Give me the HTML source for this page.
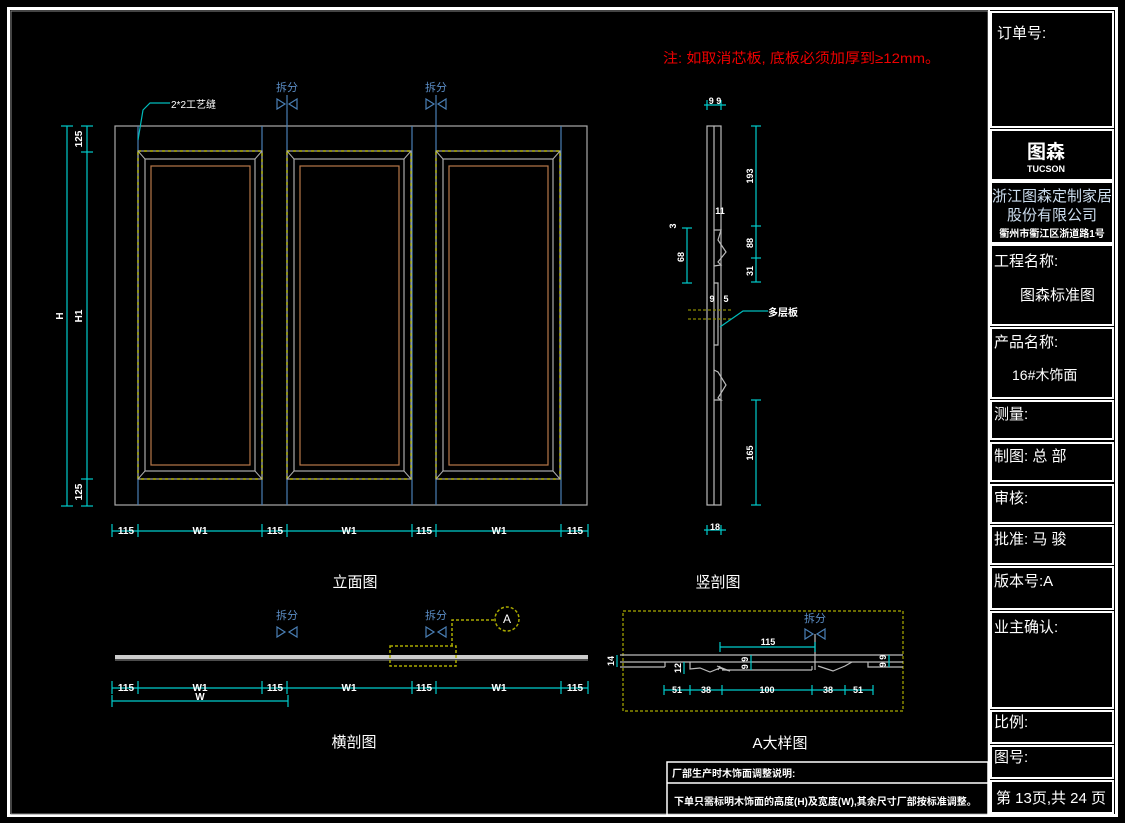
<!DOCTYPE html>
<html><head><meta charset="utf-8"><style>
html,body{margin:0;padding:0;background:#000;}
svg{display:block;}
text{font-family:"Liberation Sans","Noto Sans CJK SC",sans-serif;}
</style></head><body>
<svg width="1125" height="823" viewBox="0 0 1125 823" xmlns="http://www.w3.org/2000/svg">
<rect width="1125" height="823" fill="#000"/>
<rect x="8.5" y="8.5" width="1108" height="807" fill="none" stroke="#fff" stroke-width="3"/>
<rect x="11" y="11" width="977" height="803" fill="none" stroke="#888" stroke-width="1"/>
<line x1="989" y1="10" x2="989" y2="815" stroke="#fff" stroke-width="2"/>
<g fill="none" stroke="#fff" stroke-width="2">
<rect x="991" y="12" width="122" height="115"/>
<rect x="991" y="130" width="122" height="50"/>
<rect x="991" y="182" width="122" height="61"/>
<rect x="991" y="245" width="122" height="80"/>
<rect x="991" y="328" width="122" height="70"/>
<rect x="991" y="401" width="122" height="38"/>
<rect x="991" y="443" width="122" height="38"/>
<rect x="991" y="485" width="122" height="38"/>
<rect x="991" y="526" width="122" height="38"/>
<rect x="991" y="567" width="122" height="42"/>
<rect x="991" y="612" width="122" height="96"/>
<rect x="991" y="711" width="122" height="32"/>
<rect x="991" y="746" width="122" height="32"/>
<rect x="991" y="781" width="122" height="32"/>
</g>
<g fill="#fff" font-size="15">
<text x="997" y="38">订单号:</text>
<text x="1046" y="158" font-size="19" font-weight="bold" text-anchor="middle">图森</text>
<text x="1046" y="172" font-size="9" font-weight="bold" text-anchor="middle">TUCSON</text>
<text x="1052" y="201" text-anchor="middle" fill="#cde">浙江图森定制家居</text>
<text x="1052" y="220" text-anchor="middle" fill="#cde">股份有限公司</text>
<text x="1052" y="237" text-anchor="middle" font-size="10" font-weight="bold">衢州市衢江区浙道路1号</text>
<text x="994" y="266">工程名称:</text>
<text x="1020" y="300">图森标准图</text>
<text x="994" y="347">产品名称:</text>
<text x="1012" y="380" font-size="14">16#木饰面</text>
<text x="994" y="419">测量:</text>
<text x="994" y="461">制图: 总 部</text>
<text x="994" y="503">审核:</text>
<text x="994" y="544">批准: 马 骏</text>
<text x="994" y="586">版本号:A</text>
<text x="994" y="632">业主确认:</text>
<text x="994" y="727">比例:</text>
<text x="994" y="762">图号:</text>
<text x="996" y="803">第 13页,共 24 页</text>
</g>
<rect x="667" y="762" width="321" height="53" fill="none" stroke="#fff" stroke-width="1.5"/>
<line x1="667" y1="783" x2="988" y2="783" stroke="#fff" stroke-width="1.5"/>
<text x="672" y="777" fill="#fff" font-size="10" font-weight="bold">厂部生产时木饰面调整说明:</text>
<text x="674" y="805" fill="#fff" font-size="10" font-weight="bold">下单只需标明木饰面的高度(H)及宽度(W),其余尺寸厂部按标准调整。</text>
<text x="663" y="63" fill="#e00" font-size="14" textLength="277" lengthAdjust="spacingAndGlyphs">注: 如取消芯板, 底板必须加厚到≥12mm。</text>

<rect x="115" y="126" width="472" height="379" fill="none" stroke="#aaa" stroke-width="1.2"/>
<g stroke="#4a7fb5" stroke-width="1.2">
<line x1="138" y1="126" x2="138" y2="505"/><line x1="262" y1="126" x2="262" y2="505"/>
<line x1="287" y1="95" x2="287" y2="505"/><line x1="412" y1="126" x2="412" y2="505"/>
<line x1="436" y1="95" x2="436" y2="505"/><line x1="561" y1="126" x2="561" y2="505"/>
</g>
<g id="p1" fill="none">
<rect x="138" y="151" width="124" height="328" stroke="#aaa" stroke-width="1.2"/>
<rect x="138" y="151" width="124" height="328" stroke="#cc0" stroke-width="1.2" stroke-dasharray="3,3"/>
<rect x="145" y="159" width="110" height="312" stroke="#aaa" stroke-width="1.2"/>
<rect x="151" y="166" width="99" height="299" stroke="#b8784a" stroke-width="1.2"/>
<path d="M138 151L145 159M262 151L255 159M138 479L145 471M262 479L255 471" stroke="#aaa"/>
</g>
<use href="#p1" x="149"/>
<use href="#p1" x="298"/>
<polyline points="138,140 143,110 150,103 170,103" fill="none" stroke="#0bb" stroke-width="1.2"/>
<text x="171" y="108" fill="#fff" font-size="10">2*2工艺缝</text>
<g id="cf" fill="none" stroke="#4a7fb5" stroke-width="1.2">
<text x="287" y="91" fill="#5a8cc4" stroke="none" font-size="11" text-anchor="middle">拆分</text>
<path d="M277 99L285 104L277 109ZM297 99L289 104L297 109Z"/>
</g>
<use href="#cf" x="149"/>
<g stroke="#0cc" stroke-width="1.2">
<line x1="112" y1="531" x2="588" y2="531"/>
<line x1="112" y1="524" x2="112" y2="537"/><line x1="138" y1="524" x2="138" y2="537"/>
<line x1="262" y1="524" x2="262" y2="537"/><line x1="287" y1="524" x2="287" y2="537"/>
<line x1="412" y1="524" x2="412" y2="537"/><line x1="436" y1="524" x2="436" y2="537"/>
<line x1="561" y1="524" x2="561" y2="537"/><line x1="588" y1="524" x2="588" y2="537"/>
<line x1="67" y1="126" x2="67" y2="506"/><line x1="87" y1="126" x2="87" y2="506"/>
<line x1="61" y1="126" x2="73" y2="126"/><line x1="61" y1="506" x2="73" y2="506"/>
<line x1="81" y1="126" x2="93" y2="126"/><line x1="81" y1="152" x2="93" y2="152"/>
<line x1="81" y1="479" x2="93" y2="479"/><line x1="81" y1="506" x2="93" y2="506"/>
</g>
<g fill="#fff" font-size="10" font-weight="bold" text-anchor="middle">
<text x="126" y="534">115</text><text x="200" y="534">W1</text><text x="275" y="534">115</text>
<text x="349" y="534">W1</text><text x="424" y="534">115</text><text x="499" y="534">W1</text><text x="575" y="534">115</text>
<text transform="translate(82,139) rotate(-90)">125</text>
<text transform="translate(82,316) rotate(-90)">H1</text>
<text transform="translate(82,492) rotate(-90)">125</text>
<text transform="translate(63,316) rotate(-90)">H</text>
</g>
<text x="355" y="587" fill="#fff" font-size="15" text-anchor="middle">立面图</text>

<g fill="none" stroke="#bbb" stroke-width="1.2">
<rect x="707" y="126" width="14" height="379"/>
<line x1="714" y1="126" x2="714" y2="505"/>
<path d="M714 230L721 230L718 240L726 252L718 262L721 265L714 266"/>
<path d="M714 283L718 283L718 345L714 345"/>
<path d="M714 370L718 372L726 385L718 398L721 400L714 400"/>
</g>
<g stroke="#880" stroke-width="1.2" stroke-dasharray="3,2">
<line x1="688" y1="310" x2="732" y2="310"/><line x1="688" y1="319" x2="732" y2="319"/>
</g>
<polyline points="720,327 743,311 768,311" fill="none" stroke="#0bb" stroke-width="1.2"/>
<text x="768" y="316" fill="#fff" font-size="10" font-weight="bold">多层板</text>
<g stroke="#0cc" stroke-width="1.2">
<line x1="756" y1="126" x2="756" y2="226"/><line x1="756" y1="226" x2="756" y2="282"/>
<line x1="751" y1="126" x2="761" y2="126"/><line x1="751" y1="226" x2="761" y2="226"/>
<line x1="751" y1="258" x2="761" y2="258"/><line x1="751" y1="282" x2="761" y2="282"/>
<line x1="756" y1="400" x2="756" y2="505"/>
<line x1="751" y1="400" x2="761" y2="400"/><line x1="751" y1="505" x2="761" y2="505"/>
<line x1="687" y1="228" x2="687" y2="283"/>
<line x1="682" y1="228" x2="692" y2="228"/><line x1="682" y1="283" x2="692" y2="283"/>
<line x1="704" y1="105" x2="726" y2="105"/><line x1="704" y1="530" x2="726" y2="530"/>
<line x1="707" y1="100" x2="707" y2="110"/><line x1="721" y1="100" x2="721" y2="110"/>
<line x1="707" y1="525" x2="707" y2="535"/><line x1="721" y1="525" x2="721" y2="535"/>
</g>
<g fill="#fff" font-size="9" font-weight="bold" text-anchor="middle">
<text x="715" y="104">9 9</text><text x="715" y="530">18</text>
<text x="720" y="214">11</text><text x="712" y="302">9</text><text x="726" y="302">5</text>
<text transform="translate(753,176) rotate(-90)">193</text>
<text transform="translate(753,243) rotate(-90)">88</text>
<text transform="translate(753,271) rotate(-90)">31</text>
<text transform="translate(753,453) rotate(-90)">165</text>
<text transform="translate(684,257) rotate(-90)">68</text>
<text transform="translate(676,226) rotate(-90)">3</text>
</g>
<text x="718" y="587" fill="#fff" font-size="15" text-anchor="middle">竖剖图</text>

<rect x="115" y="655" width="473" height="4" fill="#ccc"/>
<line x1="115" y1="660" x2="588" y2="660" stroke="#999"/>
<use href="#cf" y="528"/>
<use href="#cf" x="149" y="528"/>
<g fill="none" stroke="#aa0" stroke-width="1.5" stroke-dasharray="3,2">
<rect x="390" y="646" width="66" height="20"/>
<polyline points="452,646 452,620 495,620"/>
<circle cx="507" cy="619" r="12"/>
</g>
<text x="507" y="623" fill="#fff" font-size="12" text-anchor="middle">A</text>
<g stroke="#0cc" stroke-width="1.2">
<line x1="112" y1="688" x2="588" y2="688"/>
<line x1="112" y1="681" x2="112" y2="694"/><line x1="138" y1="681" x2="138" y2="694"/>
<line x1="262" y1="681" x2="262" y2="694"/><line x1="287" y1="681" x2="287" y2="694"/>
<line x1="412" y1="681" x2="412" y2="694"/><line x1="436" y1="681" x2="436" y2="694"/>
<line x1="561" y1="681" x2="561" y2="694"/><line x1="588" y1="681" x2="588" y2="694"/>
<line x1="112" y1="701" x2="288" y2="701"/>
<line x1="112" y1="695" x2="112" y2="707"/><line x1="288" y1="695" x2="288" y2="707"/>
</g>
<g fill="#fff" font-size="10" font-weight="bold" text-anchor="middle">
<text x="126" y="691">115</text><text x="200" y="691">W1</text><text x="275" y="691">115</text>
<text x="349" y="691">W1</text><text x="424" y="691">115</text><text x="499" y="691">W1</text><text x="575" y="691">115</text>
<text x="200" y="700">W</text>
</g>
<text x="354" y="747" fill="#fff" font-size="15" text-anchor="middle">横剖图</text>

<rect x="623" y="611" width="280" height="100" fill="none" stroke="#aa0" stroke-width="1.2" stroke-dasharray="3,2"/>
<g fill="none" stroke="#bbb" stroke-width="1.2">
<line x1="620" y1="655" x2="903" y2="655"/>
<line x1="620" y1="662" x2="903" y2="662"/>
<line x1="620" y1="667" x2="665" y2="667"/>
<path d="M665 662L665 667M868 662L868 667L903 667"/>
<path d="M690 662L690 669L700 668L710 672L720 668L730 671L717 666"/>
<line x1="722" y1="670" x2="812" y2="670"/>
<path d="M718 670L720 666M812 670L812 666M818 666L833 671L845 666L852 662"/>
<line x1="815" y1="634" x2="815" y2="670"/>
</g>
<g stroke="#0cc" stroke-width="1.2">
<line x1="720" y1="647" x2="815" y2="647"/>
<line x1="720" y1="642" x2="720" y2="652"/><line x1="815" y1="642" x2="815" y2="652"/>
<line x1="617" y1="655" x2="617" y2="667"/>
<line x1="751" y1="655" x2="751" y2="670"/>
<line x1="684" y1="662" x2="684" y2="674"/>
<line x1="889" y1="655" x2="889" y2="667"/>
<line x1="664" y1="690" x2="873" y2="690"/>
<line x1="664" y1="685" x2="664" y2="695"/><line x1="690" y1="685" x2="690" y2="695"/>
<line x1="722" y1="685" x2="722" y2="695"/><line x1="812" y1="685" x2="812" y2="695"/>
<line x1="845" y1="685" x2="845" y2="695"/><line x1="873" y1="685" x2="873" y2="695"/>
</g>
<g fill="#fff" font-size="9" font-weight="bold" text-anchor="middle">
<text x="768" y="645">115</text>
<text x="677" y="693">51</text><text x="706" y="693">38</text><text x="767" y="693">100</text>
<text x="828" y="693">38</text><text x="858" y="693">51</text>
<text transform="translate(614,661) rotate(-90)">14</text>
<text transform="translate(681,668) rotate(-90)">12</text>
<text transform="translate(748,663) rotate(-90)">9 9</text>
<text transform="translate(886,661) rotate(-90)">9 9</text>
</g>
<g fill="none" stroke="#4a7fb5" stroke-width="1.2">
<text x="815" y="622" fill="#5a8cc4" stroke="none" font-size="11" text-anchor="middle">拆分</text>
<path d="M805 629L813 634L805 639ZM825 629L817 634L825 639Z"/>
</g>
<text x="780" y="748" fill="#fff" font-size="15" text-anchor="middle">A大样图</text>
</svg>
</body></html>
